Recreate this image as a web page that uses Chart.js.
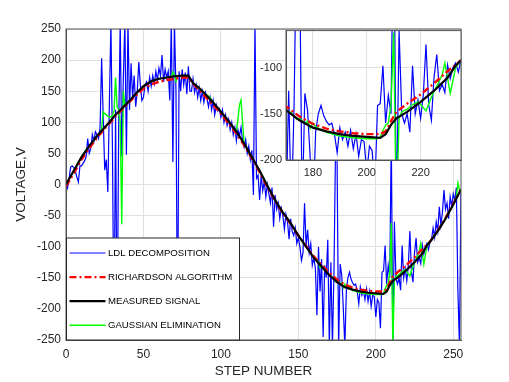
<!DOCTYPE html>
<html>
<head>
<meta charset="utf-8">
<script src="https://cdn.jsdelivr.net/npm/chart.js@4.4.0/dist/chart.umd.min.js"></script>
<style>
  body { margin: 0; background: #fff; }
  #wrap { position: relative; width: 509px; height: 382px; }
  #main { position: absolute; left: 0; top: 0; }
  #inset { position: absolute; left: 250px; top: 20px; }
</style>
</head>
<body>
<div id="wrap">
  <canvas id="main" width="509" height="382"></canvas>
  <canvas id="inset" width="215" height="165"></canvas>
</div>
<script>
// tick labels
const xTicks = [0, 50, 100, 150, 200, 250];
const yTicks = [-250, -200, -150, -100, -50, 0, 50, 100, 150, 200, 250];
const insetXTicks = [180, 200, 220];
const insetYTicks = [-200, -150, -100];

// LDL decomposition, one value per step (0..255)
const ldlValues = [
  0, -6, 10, 28, 30, 27, 22, 12, 4, 30,
  30, 34, 38, 45, 74, 50, 58, 80, 70, 85,
  80, 74, 92, 203, 110, 23, 40, -12, 130, 260,
  55, -260, 120, -260, 90, 260, 45, 170, 260, 48,
  260, 120, 195, 140, 175, 125, 150, 197, 160, 135,
  140, 160, 165, 150, 172, 158, 175, 162, 182, 168,
  187, 175, 208, 165, 185, 172, 182, 135, 260, 36,
  260, 150, -260, 182, 150, 185, 160, 180, 145, 190,
  150, 150, 170, 148, 160, 140, 155, 135, 150, 132,
  148, 138, 125, 140, 120, 135, 112, 128, 118, 122,
  108, 120, 100, 112, 95, 105, 88, 100, 80, 92,
  70, 88, 78, 92, 70, 60, 72, 50, 62, 40,
  55, -17, 260, 10, 15, -25, 15, -10, 5, -20,
  0, -15, -30, -5, -68, -17, -40, -30, -55, -38,
  -50, -72, -48, -60, -88, -55, -75, -82, -70, -95,
  -85, -100, -122, -110, -30, -98, -73, -110, -95, -130,
  -118, -135, -210, -100, -172, -120, -245, -130, -150, -89,
  -260, -125, -260, -140, 60, 40, -260, -128, -146, -198,
  -260, -170, -150, -141, -152, -158, -162, -160, -172, -192,
  -165, -178, -170, -185, -168, -188, -172, -196, -178, -180,
  -213, -185, -190, -231, -141, -139, -98, -160, -130, -150,
  80, -260, -60, -150, -160, -150, -170, -98, -150, -135,
  -155, -130, -75, -140, -157, -110, -86, -125, -118, -127,
  -97, -112, -100, -95, -105, -92, -88, -70, -85, -60,
  -75, -36, -65, -45, -9, -40, -30, -55, -20, -35,
  -15, -25, -5, -170, -260, -10
];

// measured signal and Richardson, read at these steps
const knotSteps = [0, 5, 10, 15, 20, 25, 28, 32, 36, 40, 45, 50, 55, 60, 65, 70, 75, 79,
  82, 86, 90, 95, 100, 105, 110, 115, 120, 125, 130, 135, 140, 145, 150, 155, 160, 165,
  170, 175, 180, 185, 190, 195, 200, 205, 207, 209, 211, 215, 220, 225, 230, 233, 235,
  240, 245, 250, 255];
const measuredValues = [0, 22, 44, 62, 78, 92, 100, 112, 122, 132, 146, 158, 166, 170, 172, 174, 175, 175,
  163, 155, 145, 132, 117, 102, 85, 66, 44, 22, -2, -25, -45, -62, -82, -100, -118, -132,
  -146, -157, -165, -169, -172, -174, -175, -176, -172, -162, -155, -148, -137, -125, -111, -98, -92,
  -75, -55, -32, -8];
const richardsonValues = [-3, 18, 40, 58, 75, 90, 98, 110, 120, 130, 143, 154, 161, 165, 168, 170, 172, 172,
  162, 152, 141, 128, 114, 98, 82, 63, 42, 20, -4, -26, -46, -63, -82, -99, -116, -129,
  -142, -153, -161, -166, -169, -171, -172, -172, -169, -158, -148, -139, -129, -117, -104, -97, -92,
  -74, -54, -31, -8];

// Gaussian elimination
const gaussSteps = [0, 5, 10, 15, 20, 22, 23, 24, 25, 26,
  27, 28, 29, 30, 31, 32, 33, 34, 35, 36,
  37, 38, 40, 45, 50, 55, 60, 65, 68, 69,
  70, 71, 72, 75, 79, 82, 86, 90, 92, 93,
  95, 100, 105, 110, 111, 112, 113, 114, 115, 120,
  125, 130, 135, 140, 145, 150, 155, 160, 163, 164,
  165, 170, 172, 174, 175, 177, 178, 179, 180, 181,
  185, 190, 195, 200, 204, 205, 206, 207, 208, 209,
  210, 211, 212, 213, 215, 217, 219, 220, 222, 224,
  226, 228, 229, 231, 233, 235, 240, 245, 250, 252,
  253, 254, 255];
const gaussValues = [0, 22, 44, 62, 78, 84, 90, 117, 114, 112,
  110, 108, 109, 111, 118, 172, 125, 120, 100, -64,
  150, 128, 132, 146, 158, 166, 170, 172, 173, 181,
  176, 166, 174, 175, 175, 163, 155, 145, 142, 140,
  132, 117, 102, 85, 105, 128, 136, 100, 66, 44,
  22, -2, -25, -45, -62, -82, -100, -118, -124, -134,
  -132, -146, -149, -156, -155, -160, -158, -166, -160, -164,
  -170, -174, -176, -177, -177, -175, -168, -162, -160, -140,
  -62, -262, -155, -148, -145, -140, -137, -140, -147, -132,
  -120, -108, -95, -128, -100, -92, -75, -55, -32, -20,
  2, -8, -8];

const FONT = '"Liberation Sans", Arial, Helvetica, sans-serif';
Chart.defaults.font.family = FONT;
Chart.defaults.color = '#262626';

const pairs = (xs, ys) => xs.map((x, i) => ({ x: x, y: ys[i] }));

function makeDatasets() {
  const line = (label, data, color, width, dash, order) => ({
    label, data, borderColor: color, backgroundColor: color, borderWidth: width,
    borderDash: dash, pointRadius: 0, tension: 0, fill: false, clip: 0, order
  });
  return [
    line('LDL DECOMPOSITION', ldlValues.map((v, i) => ({ x: i, y: v })), '#0000ff', 1.2, [], 4),
    line('RICHARDSON ALGORITHM', pairs(knotSteps, richardsonValues), '#ff0000', 2.4, [7, 3, 2, 3], 2),
    line('MEASURED SIGNAL', pairs(knotSteps, measuredValues), '#000000', 2.2, [], 1),
    line('GAUSSIAN ELIMINATION', pairs(gaussSteps, gaussValues), '#00ff00', 1.4, [], 3)
  ];
}

const boxPlugin = {
  id: 'box',
  afterDatasetsDraw(chart) {
    const a = chart.chartArea, ctx = chart.ctx;
    ctx.save();
    ctx.strokeStyle = '#555';
    ctx.lineWidth = 1;
    ctx.strokeRect(a.left, a.top, a.right - a.left, a.bottom - a.top);
    ctx.restore();
  }
};

const legendPlugin = {
  id: 'boxLegend',
  afterDraw(chart) {
    const ctx = chart.ctx, a = chart.chartArea;
    const w = 173, h = 102;
    const x0 = a.left + 0.5, y0 = a.bottom - h;
    ctx.save();
    ctx.fillStyle = '#fff';
    ctx.fillRect(x0, y0, w, h);
    ctx.strokeStyle = '#262626';
    ctx.lineWidth = 1;
    ctx.strokeRect(x0, y0, w, h);
    ctx.font = '9.6px ' + FONT;
    ctx.textBaseline = 'middle';
    chart.data.datasets.forEach((ds, i) => {
      const y = y0 + 15 + i * 24.1;
      ctx.strokeStyle = ds.borderColor;
      ctx.lineWidth = ds.borderWidth;
      ctx.setLineDash(ds.borderDash);
      ctx.beginPath();
      ctx.moveTo(x0 + 3, y);
      ctx.lineTo(x0 + 39, y);
      ctx.stroke();
      ctx.setLineDash([]);
      ctx.fillStyle = '#000';
      ctx.fillText(ds.label, x0 + 41.5, y);
    });
    ctx.restore();
  }
};

const whiteArea = {
  id: 'whiteArea',
  beforeDraw(chart) {
    const a = chart.chartArea, ctx = chart.ctx;
    ctx.save();
    ctx.fillStyle = '#fff';
    ctx.fillRect(a.left, a.top, a.right - a.left, a.bottom - a.top);
    ctx.restore();
  }
};

new Chart(document.getElementById('main'), {
  type: 'line',
  data: { datasets: makeDatasets() },
  options: {
    responsive: false,
    animation: false,
    devicePixelRatio: 1,
    layout: { padding: { left: 0, top: 29, right: 48, bottom: 0 } },
    plugins: { legend: { display: false }, tooltip: { enabled: false } },
    scales: {
      x: {
        type: 'linear', min: 0, max: 255,
        afterFit: (s) => { s.height = 42; },
        afterBuildTicks: (s) => { s.ticks = xTicks.map(v => ({ value: v })); },
        grid: { color: '#e0e0e0', drawTicks: false },
        border: { color: '#555' },
        ticks: { padding: 7, font: { size: 12 }, color: '#262626', maxRotation: 0 },
        title: { display: true, text: 'STEP NUMBER', font: { size: 13.5 }, color: '#262626',
                 padding: { top: 0, bottom: 3 } }
      },
      y: {
        type: 'linear', min: -250, max: 250,
        afterFit: (s) => { s.width = 66; },
        afterBuildTicks: (s) => { s.ticks = yTicks.map(v => ({ value: v })); },
        grid: { color: '#e0e0e0', drawTicks: false },
        border: { color: '#555' },
        ticks: { padding: 5, font: { size: 12 }, color: '#262626' },
        title: { display: true, text: 'VOLTAGE,V', font: { size: 13.5 }, color: '#262626',
                 padding: { top: 13, bottom: 0 } }
      }
    }
  },
  plugins: [boxPlugin, legendPlugin]
});

new Chart(document.getElementById('inset'), {
  type: 'line',
  data: { datasets: makeDatasets() },
  options: {
    responsive: false,
    animation: false,
    devicePixelRatio: 1,
    layout: { padding: { left: 0, top: 9, right: 4, bottom: 0 } },
    plugins: { legend: { display: false }, tooltip: { enabled: false } },
    scales: {
      x: {
        type: 'linear', min: 170, max: 235,
        afterFit: (s) => { s.height = 25; },
        afterBuildTicks: (s) => { s.ticks = insetXTicks.map(v => ({ value: v })); },
        grid: { color: '#e0e0e0', drawTicks: false },
        border: { color: '#555' },
        ticks: { padding: 6, font: { size: 11 }, color: '#262626', maxRotation: 0 }
      },
      y: {
        type: 'linear', min: -200, max: -60,
        afterFit: (s) => { s.width = 36; },
        afterBuildTicks: (s) => { s.ticks = insetYTicks.map(v => ({ value: v })); },
        grid: { color: '#e0e0e0', drawTicks: false },
        border: { color: '#555' },
        ticks: { padding: 4, font: { size: 11 }, color: '#262626' }
      }
    }
  },
  plugins: [whiteArea, boxPlugin]
});
</script>
</body>
</html>
